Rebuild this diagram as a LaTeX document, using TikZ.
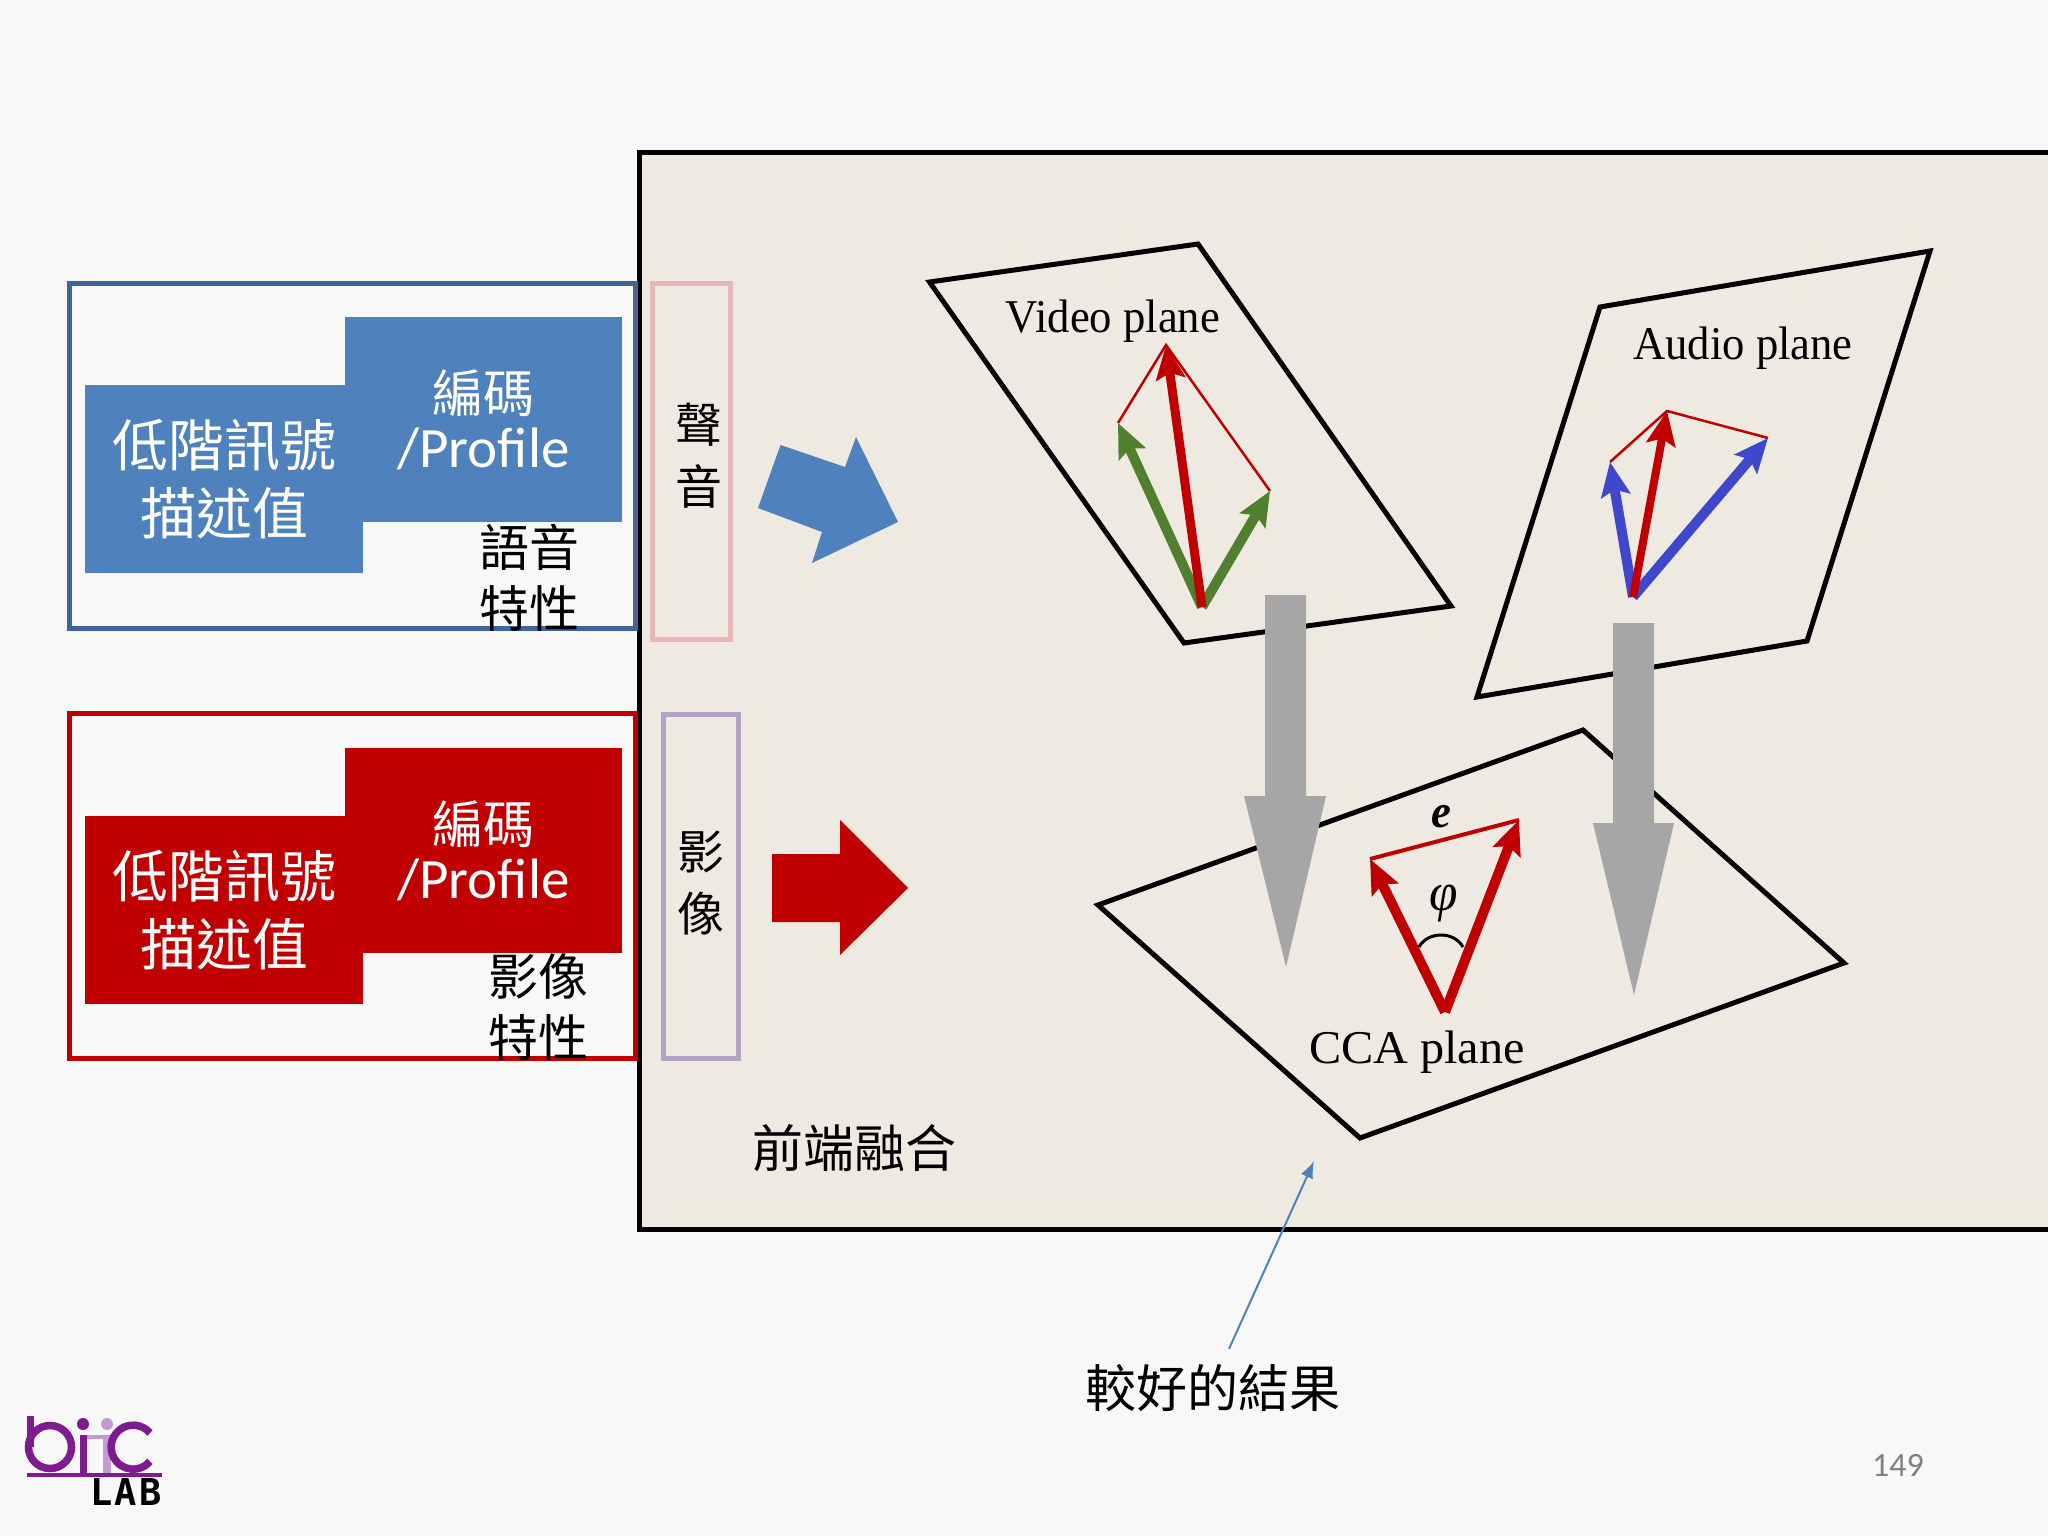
\documentclass[tikz,border=0pt]{standalone}
\usepackage{fontspec}
\setmainfont{Noto Sans CJK TC}
\newfontfamily\latinfont{Carlito}
\newfontfamily\planefont{Liberation Serif}
\newfontfamily\logofont[LetterSpace=6]{DejaVu Sans Mono}
\usepackage{xcolor}
\usepackage{tikz}
\usetikzlibrary{positioning,arrows.meta}
\definecolor{slidebg}{HTML}{F8F8F8}
\definecolor{panelbg}{HTML}{EFEAE1}
\definecolor{audioblue}{HTML}{4F81BD}
\definecolor{audioedge}{HTML}{41659B}
\definecolor{videored}{HTML}{C00000}
\definecolor{soundpink}{HTML}{E6B9B8}
\definecolor{imagelilac}{HTML}{B3A2C7}
\definecolor{vecgreen}{HTML}{4F7F2F}
\definecolor{vecblue}{HTML}{3F48CC}
\definecolor{projgray}{HTML}{A6A6A6}
\definecolor{logopurple}{HTML}{7D1B8F}
\definecolor{logolilac}{HTML}{C39BD3}

\begin{document}
\begin{tikzpicture}[
			x=1pt, y=-1pt,
			group/.style={draw, line width=5pt, inner sep=0pt, outer sep=0pt},
			block/.style={inner sep=0pt, outer sep=0pt, text=white, align=center},
			lowblock/.style={block, minimum width=278pt, minimum height=188pt, font=\fontsize{56}{68}\selectfont},
			codeblock/.style={block, minimum width=277pt, minimum height=205pt, font=\fontsize{51}{59}\selectfont},
			caption/.style={align=center, font=\fontsize{50}{61}\selectfont},
			sidetext/.style={align=center, font=\fontsize{47}{62}\selectfont},
			plane/.style={draw, line width=5pt, line join=miter},
			planelabel/.style={xscale=0.95, font=\planefont\fontsize{47}{50}\selectfont},
			thinlink/.style={videored, line width=2.5pt},
			vec/.style={-{Stealth[length=34pt, width=29pt, inset=6pt]}, line width=10pt},
			arrow/.style={-{Latex[length=17pt, width=13pt]}, audioblue, line width=2pt}
			]
	
	%% Fundo e painel
	\fill[slidebg] (0,0) rectangle (2048,1536);
	\useasboundingbox (0,0) rectangle (2048,1536);
	\draw[line width=5pt, fill=panelbg] (2056,153) rectangle (639,1229);
	
	%% STACK 1: audio
	\node[group, draw=audioedge, minimum width=566pt, minimum height=345pt] (grupoAudio) at (352,455.5) {};
	\node[codeblock, fill=audioblue] (codeAudio) at (483.5,419.5) {編碼\\[-4pt]{\latinfont\fontsize{57}{59}\selectfont /Profile}};
	\node[lowblock, fill=audioblue] (lowAudio) at (224,479) {低階訊號\\描述值};
	\node[caption] (capAudio) at (529,578) {語音\\特性};
	\node[group, draw=soundpink, minimum width=78pt, minimum height=356pt] (sideAudio) at (691.5,461) {};
	\node[sidetext] (textAudio) at (699,456) {聲\\音};
	\fill[audioblue] (780.5,445) -- (845,467) -- (856,437) -- (898,522) -- (812,563) -- (822,532) -- (758,508) -- cycle;
	
	%% STACK 2: imagem
	\node[group, draw=videored, minimum width=566pt, minimum height=345pt, below=85pt of grupoAudio] (grupoVideo) {};
	\node[codeblock, fill=videored] (codeVideo) at (483.5,850.5) {編碼\\[-4pt]{\latinfont\fontsize{57}{59}\selectfont /Profile}};
	\node[lowblock, fill=videored] (lowVideo) at (224,910) {低階訊號\\描述值};
	\node[caption] (capVideo) at (538,1007) {影像\\特性};
	\node[group, draw=imagelilac, minimum width=75pt, minimum height=344pt] (sideVideo) at (700.5,886) {};
	\node[sidetext] (textVideo) at (701,883.5) {影\\像};
	\fill[videored] (772,854) -- (840,854) -- (840,820) -- (908,888) -- (840,955) -- (840,922) -- (772,922) -- cycle;
	
	%% Planos
	\draw[plane] (929.5,282) -- (1198,244) -- (1451,606) -- (1184,643) -- cycle;
	\node[planelabel] (labelVideo) at (1113,321) {Video plane};
	\draw[plane] (1600,307) -- (1930,251) -- (1807,641) -- (1477,697) -- cycle;
	\node[planelabel] (labelAudio) at (1743,348) {Audio plane};
	\draw[plane] (1098,905) -- (1583,730) -- (1844,963) -- (1360,1138) -- cycle;
	\node[planelabel, xscale=1.08] (labelCCA) at (1417,1052) {CCA plane};
	
	%% Vetores do plano de video
	\coordinate (videoBase) at (1202,607);
	\coordinate (videoLeft) at (1118,423);
	\coordinate (videoRight) at (1270,491);
	\coordinate (videoTop) at (1166,345);
	\draw[thinlink] (videoLeft) -- (videoTop) -- (videoRight);
	\draw[vec, vecgreen] (videoBase) -- (videoLeft);
	\draw[vec, vecgreen] (videoBase) -- (videoRight);
	\draw[vec, videored, line width=9pt] (videoBase) -- (videoTop);
	
	%% Vetores do plano de audio
	\coordinate (audioBase) at (1633,597);
	\coordinate (audioLeft) at (1610,462);
	\coordinate (audioRight) at (1768,438);
	\coordinate (audioTop) at (1667,411);
	\draw[thinlink] (audioLeft) -- (audioTop) -- (audioRight);
	\draw[vec, vecblue] (audioBase) -- (audioLeft);
	\draw[vec, vecblue] (audioBase) -- (audioRight);
	\draw[vec, videored, line width=8pt] (audioBase) -- (audioTop);
	
	%% Vetores do plano CCA
	\coordinate (ccaBase) at (1445,1012);
	\coordinate (ccaLeft) at (1370,859);
	\coordinate (ccaRight) at (1519,820);
	\draw[videored, line width=4pt] (ccaLeft) -- (ccaRight);
	\draw[vec, videored] (ccaBase) -- (ccaLeft);
	\draw[vec, videored] (ccaBase) -- (ccaRight);
	\draw[line width=3pt] (1419,947) .. controls (1428,931) and (1454,931) .. (1463,947);
	\node[planelabel] (labelE) at (1441,817) {\bfseries\itshape e};
	\node[planelabel, font=\planefont\fontsize{54}{56}\selectfont] (labelPhi) at (1444,904) {\itshape φ};
	
	%% Setas cinza de projecao
	\fill[projgray] (1265,595) -- (1306,595) -- (1306,796) -- (1326,796) -- (1286,967) -- (1244,796) -- (1265,796) -- cycle;
	\fill[projgray] (1613,623) -- (1654,623) -- (1654,823) -- (1674,823) -- (1634,995) -- (1593,823) -- (1613,823) -- cycle;
	
	%% Textos de baixo
	\node[font=\fontsize{51}{60}\selectfont] (fusao) at (854,1148) {前端融合};
	\node[font=\fontsize{51}{60}\selectfont] (resultado) at (1213,1388) {較好的結果};
	\coordinate (resultadoFim) at (1314,1161);
	\draw[arrow] (resultado.north) ++(16,-12) coordinate (resultadoIni) (resultadoIni) -- (resultadoFim);
	\node[text=gray, font=\latinfont\fontsize{34}{40}\selectfont] (pagina) at (1898,1465) {149};
	
	%% Logo
	\draw[logopurple, line width=7.5pt] (50,1447) circle (21.5);
	\fill[logopurple] (27,1416) rectangle (34,1447);
	\fill[logopurple] (80,1435) rectangle (87,1473);
	\fill[logopurple] (83,1424) circle (6);
	\fill[logolilac] (103,1435) rectangle (111,1473);
	\fill[logolilac] (87,1435) rectangle (103,1439);
	\fill[logolilac] (107,1424) circle (6);
	\draw[logopurple, line width=7.5pt] (150,1433) arc[start angle=40, end angle=320, radius=22pt];
	\fill[logopurple] (27,1473) rectangle (162,1476.5);
	\node[font=\logofont\bfseries\fontsize{37}{40}\selectfont] (logoLab) at (126,1492) {LAB};
	
\end{tikzpicture}
\end{document}
